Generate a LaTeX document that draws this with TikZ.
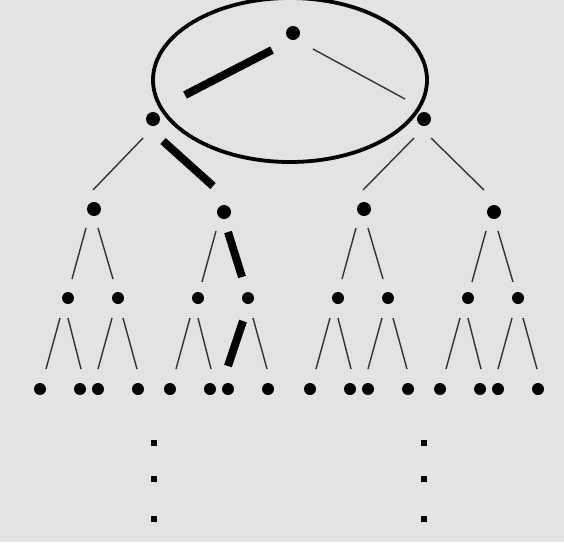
\documentclass[tikz,border=0pt]{standalone}
\usetikzlibrary{calc}
\begin{document}
\begin{tikzpicture}[x=1pt,y=-1pt,
  dotA/.style={circle,fill=black,inner sep=0pt,minimum size=14pt},
  dotB/.style={circle,fill=black,inner sep=0pt,minimum size=12pt},
  sq/.style={rectangle,fill=black,inner sep=0pt,minimum size=5.5pt},
  thin edge/.style={draw=black!80,line width=1.4pt},
  bold edge/.style={draw=black,line width=8pt}]
\fill[gray!22] (0,0) rectangle (564,542);
\useasboundingbox (0,0) rectangle (564,542);
% nodes
\node[dotA] (r) at (293,33) {};
\node[dotA] (a) at (153,119) {};
\node[dotA] (b) at (424,119) {};
\node[dotA] (a1) at (94,209) {};
\node[dotA] (a2) at (224,212) {};
\node[dotA] (b1) at (364,209) {};
\node[dotA] (b2) at (494,212) {};
\foreach \n/\x in {c1/68,c2/118,c3/198,c4/248,c5/338,c6/388,c7/468,c8/518}
  \node[dotB] (\n) at (\x,298) {};
\foreach \n/\x in {d1/40,d2/80,d3/98,d4/138,d5/170,d6/210,d7/228,d8/268,
                   d9/310,d10/350,d11/368,d12/408,d13/440,d14/480,d15/498,d16/538}
  \node[dotB] (\n) at (\x,389) {};
\node[sq] (s1) at (154,443) {};
\node[sq] (s2) at (154,479) {};
\node[sq] (s3) at (154,519) {};
\node[sq] (t1) at (424,443) {};
\node[sq] (t2) at (424,479) {};
\node[sq] (t3) at (424,519) {};
% ellipse
\draw[line width=3.8pt] (290,80) ellipse [x radius=137, y radius=82];
% root edges
\draw[bold edge] ($(r.center)+(-21,17)$) -- ($(a.center)+(32,-24)$);
\draw[thin edge] ($(r.center)+(20,16)$) -- ($(b.center)+(-19,-20)$);
% level 1-2
\draw[thin edge] ($(a.center)+(-10,19)$) -- ($(a1.center)+(-1,-19)$);
\draw[bold edge] ($(a.center)+(10,22)$) -- ($(a2.center)+(-11,-26)$);
\draw[thin edge] ($(b.center)+(-10,19)$) -- ($(b1.center)+(-1,-19)$);
\draw[thin edge] ($(b.center)+(7,19)$) -- ($(b2.center)+(-10,-22)$);
% level 2-3 (parent, top dx, bottom dx)
\foreach \p/\c/\u/\v in {a1/c1/-8/-22,a1/c2/4/19,a2/c3/-8/-22,
                         b1/c5/-8/-22,b1/c6/4/19,b2/c7/-8/-22,b2/c8/4/19}
  \draw[thin edge] ($(\p.center)+(\u,19)$) -- ($(\p.center)+(\v,70)$);
\draw[bold edge] ($(a2.center)+(4,20)$) -- ($(c4.center)+(-6,-21)$);
% level 3-4
\foreach \p/\c/\u/\v in {c1/d1/-8/-22,c1/d2/0/13,c2/d3/-6/-20,c2/d4/5/19,
                         c3/d5/-8/-22,c3/d6/0/13,c4/d8/5/19,
                         c5/d9/-8/-22,c5/d10/0/13,c6/d11/-6/-20,c6/d12/5/19,
                         c7/d13/-8/-22,c7/d14/0/13,c8/d15/-6/-20,c8/d16/5/19}
  \draw[thin edge] ($(\p.center)+(\u,20)$) -- ($(\p.center)+(\v,71)$);
\draw[bold edge] ($(c4.center)+(-5,23)$) -- ($(d7.center)+(0,-23)$);
\end{tikzpicture}
\end{document}
